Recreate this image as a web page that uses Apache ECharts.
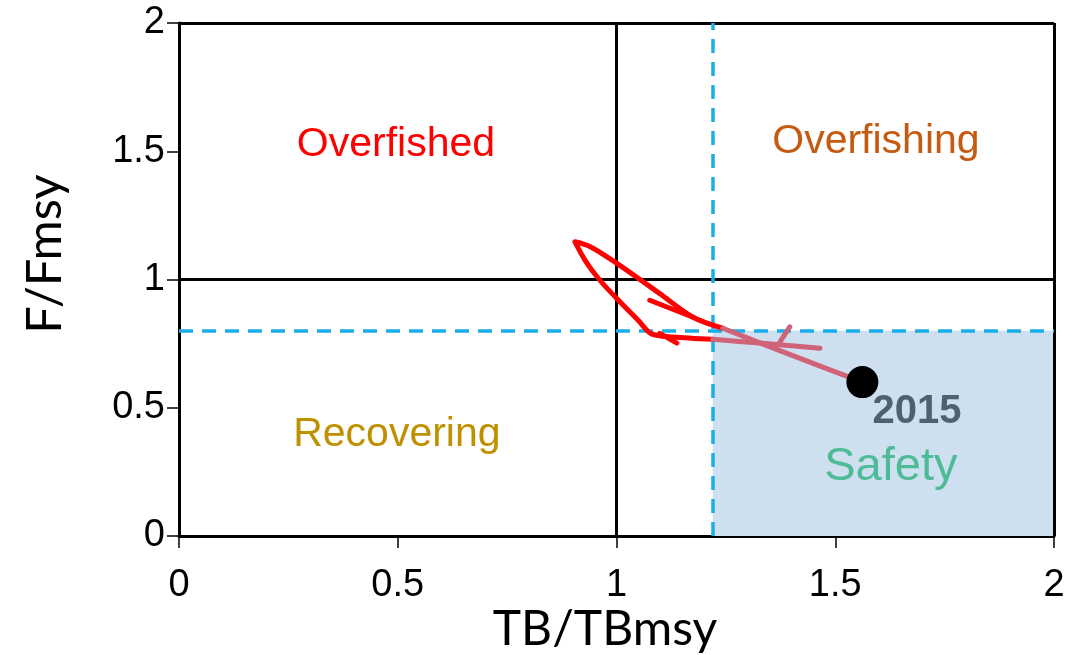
<!DOCTYPE html>
<html>
<head>
<meta charset="utf-8">
<script src="https://cdn.jsdelivr.net/npm/echarts@6/dist/echarts.min.js"></script>
<style>html,body{margin:0;padding:0;background:#fff}#c{width:1091px;height:655px}</style>
</head>
<body>
<div id="c"></div>
<script>
// ---- data ----
const xTicks = [0, 0.5, 1, 1.5, 2];
const yTicks = [0, 0.5, 1, 1.5, 2];
const refTB = 1;        // TB/TBmsy = 1
const refF = 1;         // F/Fmsy = 1
const safeTB = 1.22;    // safety threshold on TB/TBmsy
const safeF = 0.8;      // safety threshold on F/Fmsy
// trajectory (TB/TBmsy, F/Fmsy)
const redLoop = [[1.22,0.767],[1.13,0.776],[1.08,0.788],[1.05,0.84],[1.0,0.927],[0.962,0.997],[0.93,1.07],[0.905,1.147],[0.94,1.128],[1.0,1.064],[1.099,0.945],[1.175,0.853],[1.243,0.81]];
const redStrand = [[1.076,0.919],[1.175,0.853]];
const redHook = [[1.099,0.79],[1.138,0.752]];
const pinkLower = [[1.465,0.732],[1.327,0.752],[1.22,0.767]];
const pinkDiag = [[1.243,0.81],[1.40,0.705],[1.562,0.60]];
const pinkSpur = [[1.396,0.815],[1.369,0.744]];
const lastPoint = [1.562, 0.60];
const lastYear = '2015';
const zoneNames = ['Overfished', 'Overfishing', 'Recovering', 'Safety'];
const zoneAnchors = [[0.496,1.524],[1.593,1.536],[0.498,0.394],[1.627,0.269]];
const yearAnchor = [1.687, 0.483];

// ---- chart ----
const chart = echarts.init(document.getElementById('c'), null, {renderer:'canvas'});
const RED = '#ff0000', PINK = '#cf6377';
const zoneColors = ['#ff0000', '#c55a11', '#bf9000', '#4dbb95'];
const zoneSizes = [41, 41, 41, 47];
function lineSeries(data, color, z){
  return {type:'line', data:data, smooth:0.3, symbol:'none', z:z, silent:true,
    lineStyle:{color:color, width:5, cap:'round', join:'round'}};
}
const option = {
  animation:false,
  grid:{left:179, right:37, top:23, bottom:119},
  xAxis:{type:'value', min:0, max:2, interval:0.5,
    axisLine:{onZero:false, lineStyle:{color:'#000', width:3}},
    axisTick:{show:true, length:12, lineStyle:{color:'#000', width:1.5}},
    axisLabel:{color:'#000', fontFamily:'Liberation Sans', fontSize:38, margin:31},
    splitLine:{show:false}},
  yAxis:{type:'value', min:0, max:2, interval:0.5,
    axisLine:{onZero:false, lineStyle:{color:'#000', width:3}},
    axisTick:{show:true, length:12, lineStyle:{color:'#000', width:1.5}},
    axisLabel:{color:'#000', fontFamily:'Liberation Sans', fontSize:38, margin:14},
    splitLine:{show:false}},
  graphic:[
    {type:'text', x:605, y:630, style:{text:'TB/TBmsy', font:'48px Lato', fill:'#000', textAlign:'center', textVerticalAlign:'middle'}},
    {type:'text', rotation:Math.PI/2, x:45, y:254, style:{text:'F/Fmsy', font:'49px Lato', fill:'#000', textAlign:'center', textVerticalAlign:'middle'}}
  ],
  series:[
    {type:'line', data:[], z:1, silent:true,
      markArea:{silent:true, itemStyle:{color:'#cedff0', opacity:1},
        data:[[{coord:[safeTB,0]},{coord:[2,safeF]}]]}},
    {type:'line', data:[], z:2, silent:true,
      markLine:{silent:true, symbol:'none', label:{show:false},
        lineStyle:{color:'#000', width:3, type:'solid', opacity:1},
        data:[{xAxis:refTB},{yAxis:refF},{xAxis:2},{yAxis:2}]}},
    {type:'line', data:[], z:3, silent:true,
      markLine:{silent:true, symbol:'none', label:{show:false},
        lineStyle:{color:'#1aaee8', width:3.5, type:[14,9], opacity:1},
        data:[{xAxis:safeTB},{yAxis:safeF}]}},
    lineSeries(redLoop, RED, 5),
    lineSeries(redStrand, RED, 5),
    lineSeries(redHook, RED, 5),
    lineSeries(pinkLower, PINK, 6),
    lineSeries(pinkDiag, PINK, 6),
    lineSeries(pinkSpur, PINK, 6),
    {type:'scatter', data:[lastPoint], symbolSize:32, z:8, silent:true,
      itemStyle:{color:'#000', opacity:1}},
    {type:'scatter', data:[yearAnchor], symbolSize:0, z:9, silent:true,
      itemStyle:{opacity:1},
      label:{show:true, position:'inside', formatter:lastYear, color:'#4f6070', opacity:1,
        fontFamily:'Liberation Sans', fontWeight:'bold', fontSize:40}},
    {type:'scatter', symbolSize:0, z:9, silent:true, itemStyle:{opacity:1},
      data:zoneAnchors.map((p,i)=>({value:p, label:{show:true, position:'inside', opacity:1,
        formatter:zoneNames[i], color:zoneColors[i], fontSize:zoneSizes[i],
        fontFamily:'Liberation Sans'}}))}
  ]
};
chart.setOption(option);
</script>
</body>
</html>
